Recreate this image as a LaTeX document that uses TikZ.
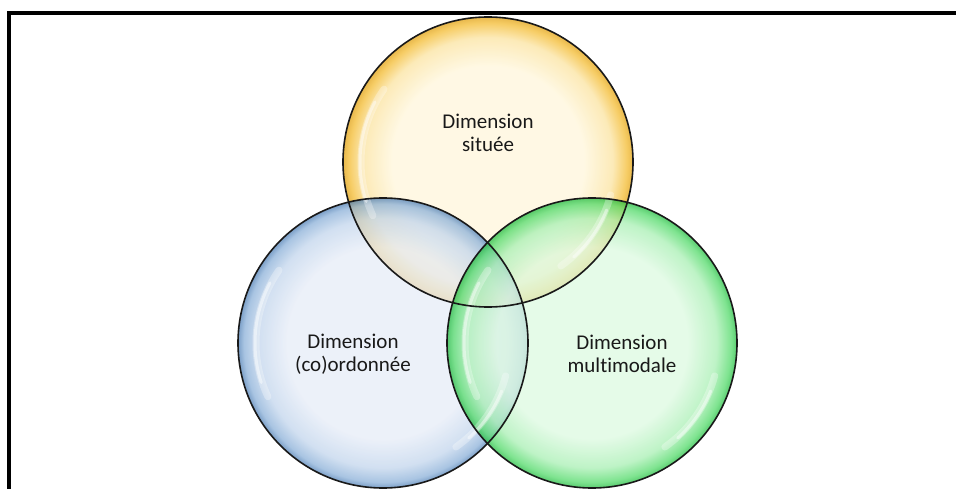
\documentclass[tikz,border=0pt]{standalone}
\usepackage{fontspec}
\setmainfont{Carlito}[Ligatures=NoCommon]
\definecolor{yin}{HTML}{FFF6DB}
\definecolor{ymid}{HTML}{FBE3A0}
\definecolor{yrim}{HTML}{F3BB30}
\definecolor{yedge}{HTML}{E0A010}
\definecolor{bin}{HTML}{E6ECF7}
\definecolor{bmid}{HTML}{C2D5EC}
\definecolor{brim}{HTML}{8BB0D8}
\definecolor{bedge}{HTML}{4F7FB5}
\definecolor{gin}{HTML}{DCF9E0}
\definecolor{gmid}{HTML}{A8EFB3}
\definecolor{grim}{HTML}{53DA6A}
\definecolor{gedge}{HTML}{22BB40}
\pgfdeclareradialshading{ybub}{\pgfpoint{0bp}{0bp}}{color(0bp)=(yin); color(16.5bp)=(yin); color(21.5bp)=(ymid); color(24bp)=(yrim); color(25bp)=(yedge); color(50bp)=(yedge)}
\pgfdeclareradialshading{bbub}{\pgfpoint{0bp}{0bp}}{color(0bp)=(bin); color(16.5bp)=(bin); color(21.5bp)=(bmid); color(24bp)=(brim); color(25bp)=(bedge); color(50bp)=(bedge)}
\pgfdeclareradialshading{gbub}{\pgfpoint{0bp}{0bp}}{color(0bp)=(gin); color(16.5bp)=(gin); color(21.5bp)=(gmid); color(24bp)=(grim); color(25bp)=(gedge); color(50bp)=(gedge)}
\begin{document}
\begin{tikzpicture}[x=1pt,y=1pt,
  bubble/.style={line width=1.6pt, draw=black!90},
  glintwide/.style={white, line cap=round, line width=7pt, opacity=0.3},
  glintthin/.style={white, line cap=round, line width=3pt, opacity=0.45},
  lbl/.style={align=center, font=\fontsize{21}{23.5}\selectfont, text=black!90, inner sep=0pt}]
\useasboundingbox (0,0) rectangle (956,488);
\coordinate (cy) at (488,326);
\coordinate (cb) at (383,145);
\coordinate (cg) at (592,145);
% fills
\begin{scope}[opacity=0.75]
\shade[shading=ybub] (cy) circle[radius=145];
\shade[shading=bbub] (cb) circle[radius=145];
\shade[shading=gbub] (cg) circle[radius=145];
\end{scope}
% glints
\foreach \c in {cy,cb,cg}{
  \draw[glintwide] ([shift={(145:127)}]\c) arc[start angle=145, end angle=205, radius=127];
  \draw[glintthin] ([shift={(152:128)}]\c) arc[start angle=152, end angle=198, radius=128];
  \draw[glintwide] ([shift={(-55:127)}]\c) arc[start angle=-55, end angle=-15, radius=127];
  \draw[glintthin] ([shift={(-48:128)}]\c) arc[start angle=-48, end angle=-22, radius=128];
}
% outlines
\draw[bubble] (cy) circle[radius=145];
\draw[bubble] (cb) circle[radius=145];
\draw[bubble] (cg) circle[radius=145];
% labels
\node[lbl] (ty) at (488,355) {Dimension\\située};
\node[lbl] (tb) at (353,134) {Dimension\\(co)ordonnée};
\node[lbl] (tg) at (622,134) {Dimension\\multimodale};
% frame
\draw[line width=3.5pt, line join=miter] (960,475) -- (9,475) -- (9,-5);
\end{tikzpicture}
\end{document}
